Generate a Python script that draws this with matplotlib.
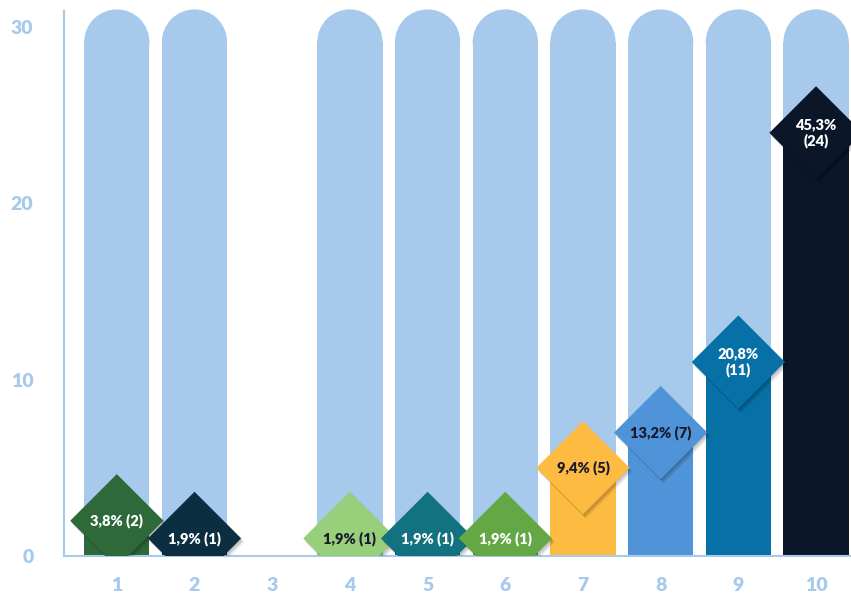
import matplotlib
matplotlib.use("Agg")
import matplotlib.pyplot as plt
from matplotlib.patches import Rectangle, Ellipse
import matplotlib.patheffects as pe

categories = ["1", "2", "3", "4", "5", "6", "7", "8", "9", "10"]
counts = [2, 1, 0, 1, 1, 1, 5, 7, 11, 24]
percent_labels = ["3,8%", "1,9%", "0,0%", "1,9%", "1,9%", "1,9%", "9,4%", "13,2%", "20,8%", "45,3%"]
bar_colors = ["#2e6a39", "#0b2e41", "#ffffff", "#98cf7b", "#137280", "#63a845",
              "#fdbb42", "#4f94d8", "#0770a6", "#0b1629"]
label_colors = ["white", "white", "white", "#1a1a2e", "white", "white",
                "#1a1a2e", "#1a1a2e", "white", "white"]
two_line = [False, False, False, False, False, False, False, False, True, True]
y_ticks = [0, 10, 20, 30]
track_max = 31.0

track_color = "#a7c9eb"
axis_color = "#a7c9eb"
font = ["Lato", "DejaVu Sans"]

fig = plt.figure(figsize=(8.51, 5.99), dpi=100)
ax = fig.add_axes([64 / 851, 43 / 599, 1 - 64 / 851, (556 - 5) / 599])

width = 0.84
xs = list(range(1, len(categories) + 1))
ax.set_xlim(0.32, 10.45)
ax.set_ylim(0, 31.25)

# pixel size of one data unit, used to keep the rounded track caps circular
px_per_x = ax.bbox.width / (10.45 - 0.32)
px_per_y = ax.bbox.height / 31.25
cap_h = width * px_per_x / px_per_y

for x, v in zip(xs, counts):
    if v <= 0:
        continue
    straight = track_max - cap_h / 2
    ax.add_patch(Rectangle((x - width / 2, 0), width, straight,
                           facecolor=track_color, edgecolor="none", zorder=1))
    ax.add_patch(Ellipse((x, straight), width, cap_h,
                         facecolor=track_color, edgecolor="none", zorder=1))

for x, v, c in zip(xs, counts, bar_colors):
    if v <= 0:
        continue
    ax.bar(x, v, width=width, color=c, zorder=2)

# soft drop shadow built from a few faint offset copies
soft_shadow = [pe.SimplePatchShadow(offset=(dx, dy), shadow_rgbFace="black", alpha=0.07)
               for dx, dy in [(0.5, -0.8), (1.0, -1.5), (1.5, -2.2), (2.0, -3.0)]]
soft_shadow.append(pe.Normal())

for x, v, c, pl, lc, tl in zip(xs, counts, bar_colors, percent_labels, label_colors, two_line):
    if v <= 0:
        continue
    ax.scatter([x], [v], marker="D", s=47.5 ** 2, color=c, linewidths=0, zorder=3,
               path_effects=soft_shadow)
    txt = f"{pl}\n({v})" if tl else f"{pl} ({v})"
    ax.text(x, v, txt, ha="center", va="center", color=lc, fontsize=10.5,
            fontweight="heavy", family=font, zorder=4, linespacing=1.2)

for s in ["top", "right"]:
    ax.spines[s].set_visible(False)
for s in ["left", "bottom"]:
    ax.spines[s].set_color(axis_color)
    ax.spines[s].set_linewidth(1.5)
ax.spines["left"].set_bounds(0, 30.9)

ax.set_xticks(xs)
ax.set_xticklabels(categories)
ax.set_yticks(y_ticks)
ax.tick_params(axis="both", length=0, colors=axis_color, labelsize=14)
ax.tick_params(axis="x", pad=15)
ax.tick_params(axis="y", pad=22)
for lab in ax.get_xticklabels() + ax.get_yticklabels():
    lab.set_fontweight("heavy")
    lab.set_family(font)

fig.savefig("out.png", dpi=100)
